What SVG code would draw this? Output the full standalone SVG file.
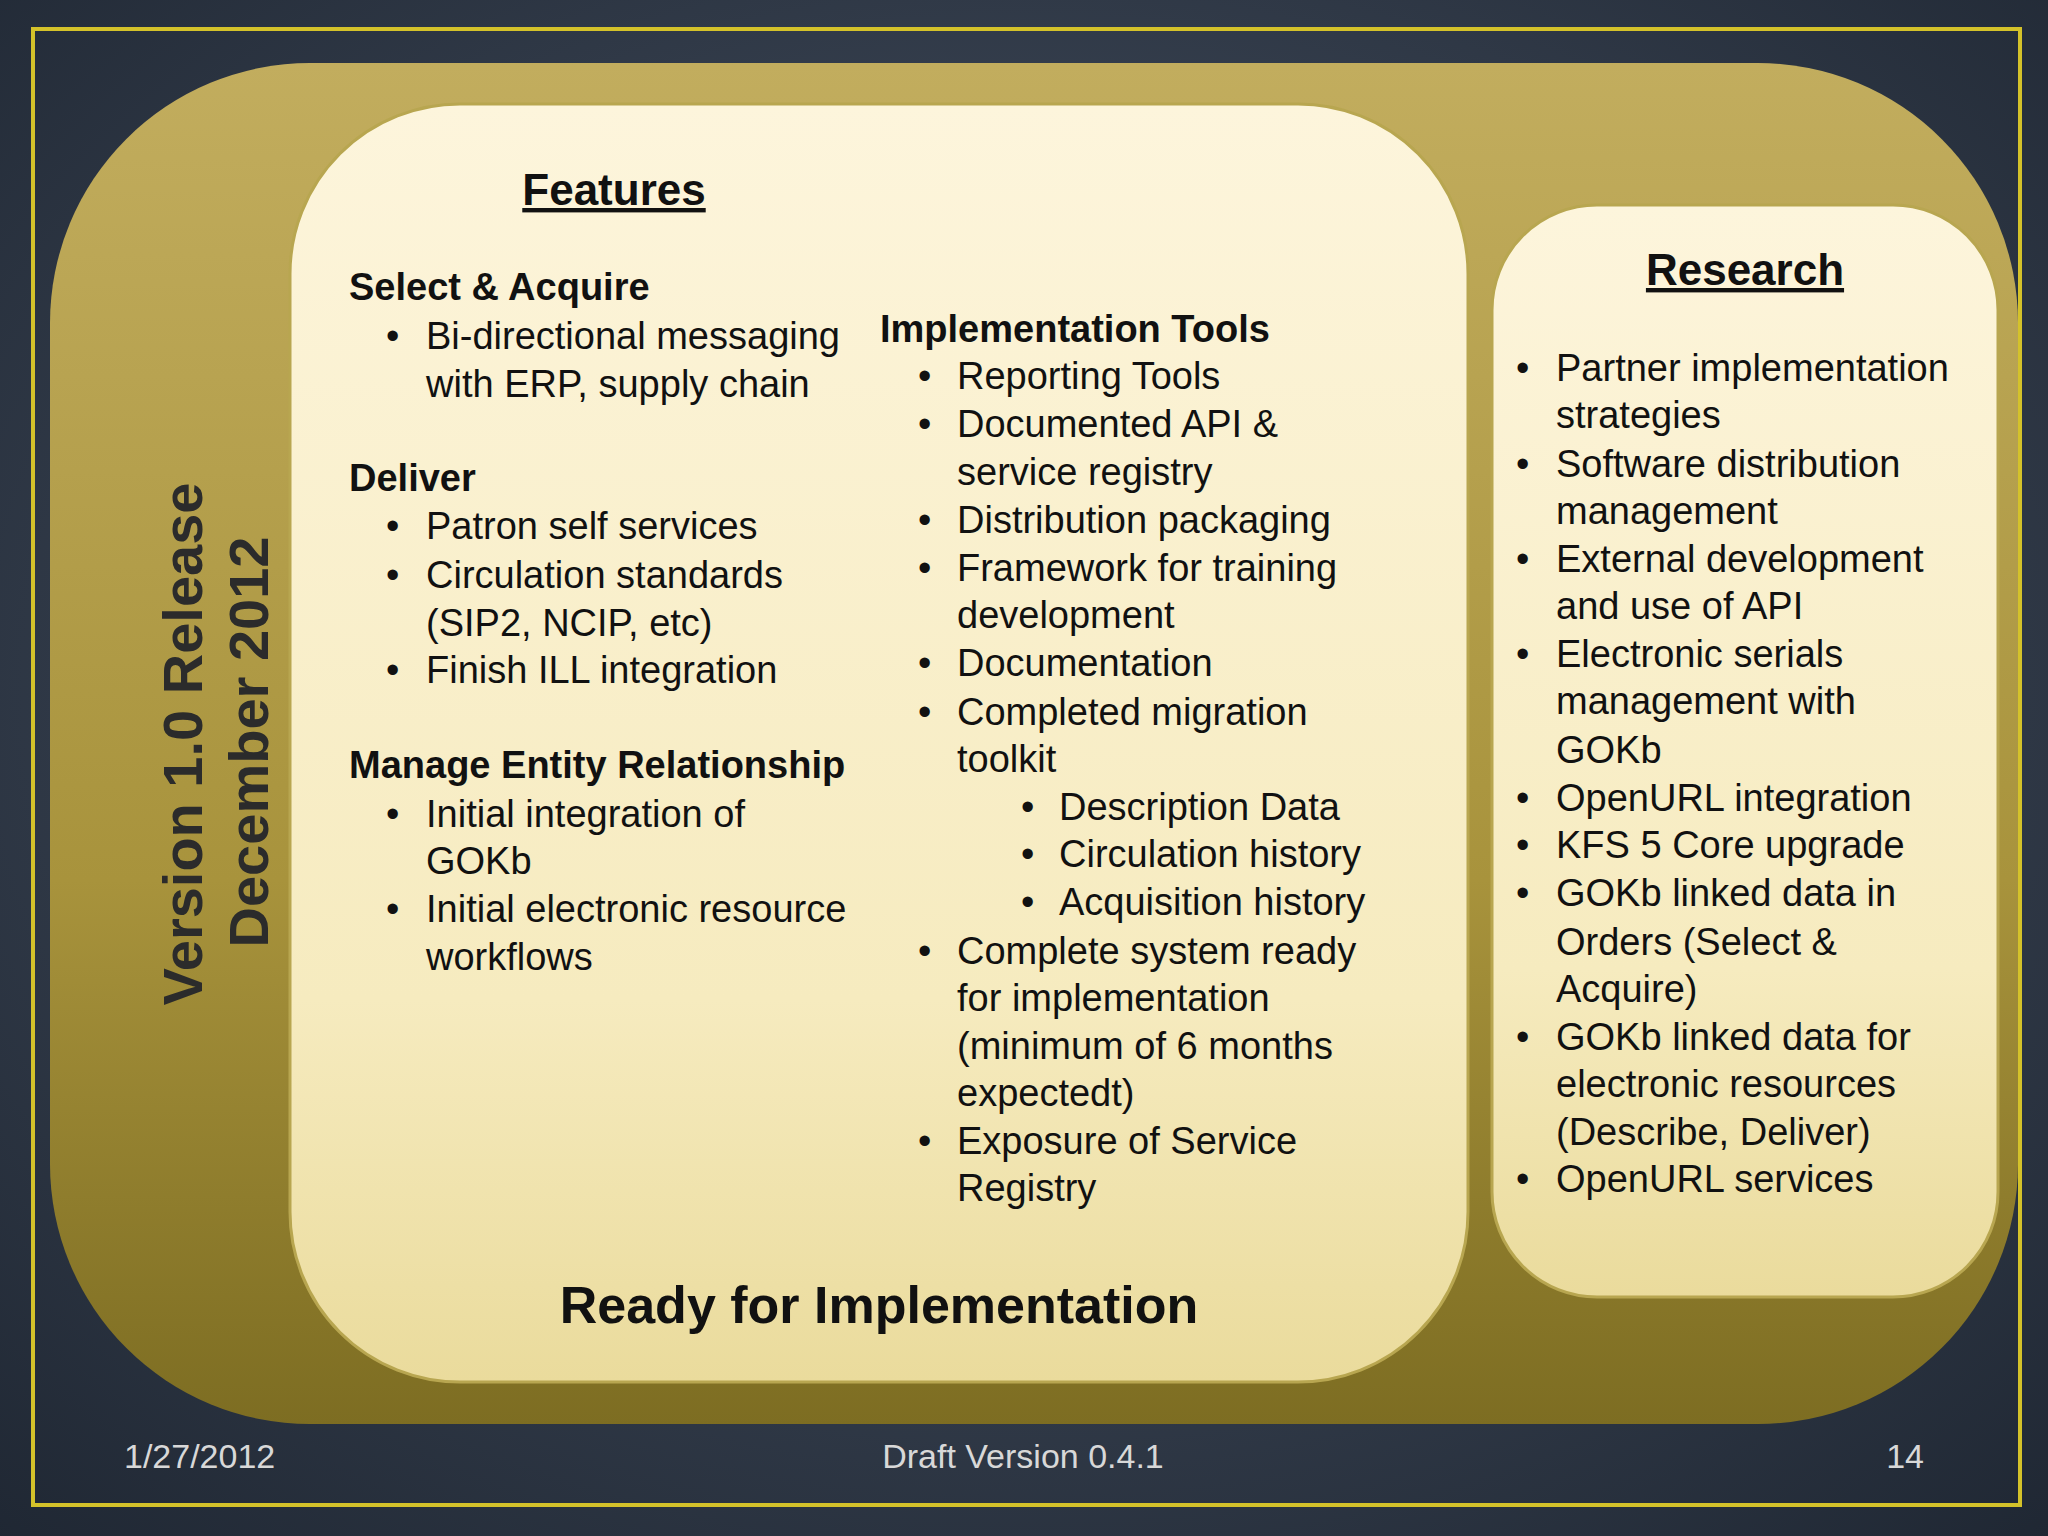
<svg xmlns="http://www.w3.org/2000/svg" width="2048" height="1536" viewBox="0 0 2048 1536">
<defs>
<radialGradient id="bg" cx="50%" cy="45%" r="75%"><stop offset="0" stop-color="#4a5566"/><stop offset="1" stop-color="#1f2733"/></radialGradient>
<linearGradient id="ol" x1="0" y1="0" x2="0" y2="1"><stop offset="0" stop-color="#c2ad5e"/><stop offset="0.6" stop-color="#a8933c"/><stop offset="1" stop-color="#7d6d22"/></linearGradient>
<linearGradient id="cr" x1="0" y1="0" x2="0" y2="1"><stop offset="0" stop-color="#fdf5dc"/><stop offset="0.7" stop-color="#f6ebbf"/><stop offset="1" stop-color="#eadb9c"/></linearGradient>
<style>
text{font-family:"Liberation Sans",Arial,sans-serif;fill:#111}
.t{font-size:38px}
.h{font-size:38px;font-weight:bold}
.ti{font-size:44px;font-weight:bold;text-decoration:underline;text-anchor:middle}
.v{font-size:56px;font-weight:bold;fill:#2b2b2b;text-anchor:middle}
.f{font-size:34px;fill:#d8d8d8}
.p{stroke:#b8a650;stroke-width:3}
</style>
</defs>
<rect width="2048" height="1536" fill="url(#bg)"/>
<rect x="33" y="29" width="1987" height="1476" fill="none" stroke="#d4c22a" stroke-width="4"/>
<g id="release"><rect x="50" y="63" width="1968" height="1361" rx="260" fill="url(#ol)"/>
<text class="v" transform="translate(202,744) rotate(-90)">Version 1.0 Release</text>
<text class="v" transform="translate(268,742) rotate(-90)">December 2012</text></g>
<g id="features"><rect class="p" x="290" y="104" width="1178" height="1278" rx="170" fill="url(#cr)"/>
<text class="ti" x="614" y="205">Features</text>
<text class="h" x="349" y="300">Select &amp; Acquire</text>
<text class="t" x="386" y="349">•</text><text class="t" x="426" y="349">Bi-directional messaging</text>
<text class="t" x="426" y="397">with ERP, supply chain</text>
<text class="h" x="349" y="491">Deliver</text>
<text class="t" x="386" y="539">•</text><text class="t" x="426" y="539">Patron self services</text>
<text class="t" x="386" y="588">•</text><text class="t" x="426" y="588">Circulation standards</text>
<text class="t" x="426" y="636">(SIP2, NCIP, etc)</text>
<text class="t" x="386" y="683">•</text><text class="t" x="426" y="683">Finish ILL integration</text>
<text class="h" x="349" y="778">Manage Entity Relationship</text>
<text class="t" x="386" y="827">•</text><text class="t" x="426" y="827">Initial integration of</text>
<text class="t" x="426" y="874">GOKb</text>
<text class="t" x="386" y="922">•</text><text class="t" x="426" y="922">Initial electronic resource</text>
<text class="t" x="426" y="970">workflows</text>
<text class="h" x="880" y="342">Implementation Tools</text>
<g class="t">
<text class="t" x="918" y="389">•</text><text class="t" x="957" y="389">Reporting Tools</text>
<text class="t" x="918" y="437">•</text><text class="t" x="957" y="437">Documented API &amp;</text>
<text class="t" x="957" y="485">service registry</text>
<text class="t" x="918" y="533">•</text><text class="t" x="957" y="533">Distribution packaging</text>
<text class="t" x="918" y="581">•</text><text class="t" x="957" y="581">Framework for training</text>
<text class="t" x="957" y="628">development</text>
<text class="t" x="918" y="676">•</text><text class="t" x="957" y="676">Documentation</text>
<text class="t" x="918" y="725">•</text><text class="t" x="957" y="725">Completed migration</text>
<text class="t" x="957" y="772">toolkit</text>
<text class="t" x="1021" y="820">•</text><text class="t" x="1059" y="820">Description Data</text>
<text class="t" x="1021" y="867">•</text><text class="t" x="1059" y="867">Circulation history</text>
<text class="t" x="1021" y="915">•</text><text class="t" x="1059" y="915">Acquisition history</text>
<text class="t" x="918" y="964">•</text><text class="t" x="957" y="964">Complete system ready</text>
<text class="t" x="957" y="1011">for implementation</text>
<text class="t" x="957" y="1059">(minimum of 6 months</text>
<text class="t" x="957" y="1106">expectedt)</text>
<text class="t" x="918" y="1154">•</text><text class="t" x="957" y="1154">Exposure of Service</text>
<text class="t" x="957" y="1201">Registry</text>
</g>
<text x="879" y="1323" style="font-size:52px;font-weight:bold;text-anchor:middle">Ready for Implementation</text></g>
<g id="research"><rect class="p" x="1492" y="205" width="506" height="1092" rx="105" fill="url(#cr)"/>
<text class="ti" x="1745" y="285">Research</text>
<text class="t" x="1516" y="381">•</text><text class="t" x="1556" y="381">Partner implementation</text>
<text class="t" x="1556" y="428">strategies</text>
<text class="t" x="1516" y="477">•</text><text class="t" x="1556" y="477">Software distribution</text>
<text class="t" x="1556" y="524">management</text>
<text class="t" x="1516" y="572">•</text><text class="t" x="1556" y="572">External development</text>
<text class="t" x="1556" y="619">and use of API</text>
<text class="t" x="1516" y="667">•</text><text class="t" x="1556" y="667">Electronic serials</text>
<text class="t" x="1556" y="714">management with</text>
<text class="t" x="1556" y="763">GOKb</text>
<text class="t" x="1516" y="811">•</text><text class="t" x="1556" y="811">OpenURL integration</text>
<text class="t" x="1516" y="858">•</text><text class="t" x="1556" y="858">KFS 5 Core upgrade</text>
<text class="t" x="1516" y="906">•</text><text class="t" x="1556" y="906">GOKb linked data in</text>
<text class="t" x="1556" y="955">Orders (Select &amp;</text>
<text class="t" x="1556" y="1002">Acquire)</text>
<text class="t" x="1516" y="1050">•</text><text class="t" x="1556" y="1050">GOKb linked data for</text>
<text class="t" x="1556" y="1097">electronic resources</text>
<text class="t" x="1556" y="1145">(Describe, Deliver)</text>
<text class="t" x="1516" y="1192">•</text><text class="t" x="1556" y="1192">OpenURL services</text></g>
<g id="connectors"/>
<g id="footer">
<text class="f" x="124" y="1468">1/27/2012</text>
<text class="f" x="1023" y="1468" text-anchor="middle">Draft Version 0.4.1</text>
<text class="f" x="1924" y="1468" text-anchor="end">14</text></g>
</svg>
